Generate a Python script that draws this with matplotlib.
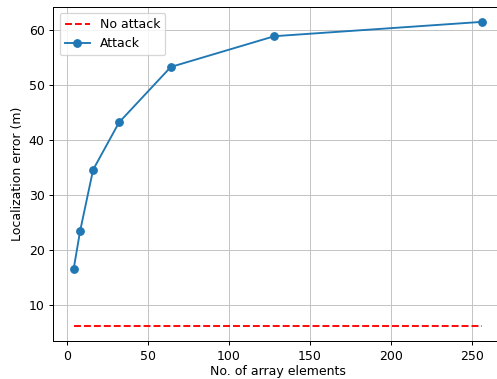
import matplotlib
matplotlib.use("Agg")
import matplotlib.pyplot as plt

elements = [4, 8, 16, 32, 64, 128, 256]
attack = [16.6, 23.5, 34.6, 43.2, 53.3, 58.9, 61.5]
no_attack = [6.2, 6.2, 6.2, 6.2, 6.2, 6.2, 6.2]

W, H = 497, 379
dpi = 90
fig = plt.figure(figsize=(W / dpi, H / dpi), dpi=dpi)
left, right, top, bottom = 53.3, 502, 6.7, 341
ax = fig.add_axes([left / W, (H - bottom) / H, (right - left) / W, (bottom - top) / H])

ax.plot(elements, no_attack, 'r--', label='No attack')
ax.plot(elements, attack, 'o-', color='#1f77b4', label='Attack')
ax.set_xlabel('No. of array elements', labelpad=2)
ax.set_ylabel('Localization error (m)')
ax.grid(True, color='#c4c4c4')
ax.legend(loc='upper left')

fig.savefig('out.png', dpi=dpi)
